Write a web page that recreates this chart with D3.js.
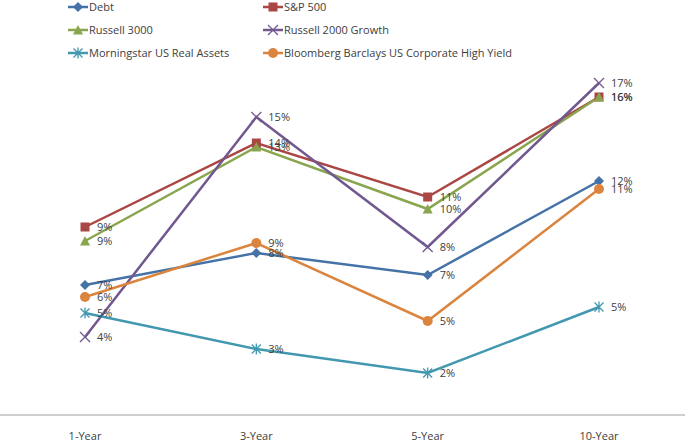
<!DOCTYPE html>
<html>
  <head>
  <title>Returns by period</title>
  </head>
  <body>
    <style>
      body, html { margin: 0; padding: 0; background: #fff; }
      text { font-family: "Open Sans", "Noto Sans", sans-serif; }
    </style>

  <svg id="svg" width="685" height="443"></svg>

  <script src="https://d3js.org/d3.v7.min.js"></script>
  <script>
    // categories and series values (percent)
    const periods = ['1-Year', '3-Year', '5-Year', '10-Year']
    const debt = [6.5, 8.1, 7.0, 11.7]
    const sp500 = [9.4, 13.6, 10.9, 15.9]
    const russell3000 = [8.7, 13.4, 10.3, 15.9]
    const russell2000g = [3.9, 14.9, 8.4, 16.6]
    const morningstar = [5.1, 3.3, 2.1, 5.4]
    const bloomberg = [5.9, 8.6, 4.7, 11.3]

    const series = [
      { name: 'Debt', values: debt, color: '#4572A7', marker: 'diamond' },
      { name: 'S&P 500', values: sp500, color: '#AA4643', marker: 'square' },
      { name: 'Russell 3000', values: russell3000, color: '#89A54E', marker: 'triangle' },
      { name: 'Russell 2000 Growth', values: russell2000g, color: '#71588F', marker: 'x' },
      { name: 'Morningstar US Real Assets', values: morningstar, color: '#4198AF', marker: 'star' },
      { name: 'Bloomberg Barclays US Corporate High Yield', values: bloomberg, color: '#DB843D', marker: 'circle' }
    ]

    const width = 685
    const height = 443

    const xscale = d3.scalePoint()
      .domain(periods)
      .range([85, 599])

    const yscale = d3.scaleLinear()
      .domain([0, 20])
      .range([415, 15])

    const svg = d3.select('#svg')

    // horizontal axis line
    svg.append('line')
      .attr('x1', 0).attr('x2', width)
      .attr('y1', yscale(0)).attr('y2', yscale(0))
      .attr('stroke', '#bfbfbf')
      .attr('stroke-width', 1.5)

    // category labels
    svg.append('g')
      .selectAll('text')
      .data(periods)
      .join('text')
      .attr('x', d => xscale(d))
      .attr('y', 440)
      .attr('text-anchor', 'middle')
      .attr('font-size', 11)
      .attr('fill', '#404040')
      .text(d => d)

    function drawMarker(g, type, color) {
      if (type === 'diamond') {
        g.append('path').attr('d', 'M0,-5L5,0L0,5L-5,0Z').attr('fill', color)
      } else if (type === 'square') {
        g.append('rect').attr('x', -4.5).attr('y', -4.5).attr('width', 9).attr('height', 9).attr('fill', color)
      } else if (type === 'triangle') {
        g.append('path').attr('d', 'M0,-5L5,4.5L-5,4.5Z').attr('fill', color)
      } else if (type === 'circle') {
        g.append('circle').attr('r', 5).attr('fill', color)
      } else if (type === 'x') {
        g.append('path').attr('d', 'M-5,-5L5,5M-5,5L5,-5')
          .attr('stroke', color).attr('stroke-width', 1.3).attr('fill', 'none')
      } else if (type === 'star') {
        g.append('path').attr('d', 'M-4.5,-4.5L4.5,4.5M-4.5,4.5L4.5,-4.5M0,-5.5L0,5.5')
          .attr('stroke', color).attr('stroke-width', 1.3).attr('fill', 'none')
      }
    }

    const linegen = d3.line()
      .x((d, i) => xscale(periods[i]))
      .y(d => yscale(d))

    const graph = svg.append('g')

    series.forEach(s => {
      graph.append('path')
        .attr('d', linegen(s.values))
        .attr('stroke', s.color)
        .attr('stroke-width', 2.5)
        .attr('fill', 'none')
    })

    series.forEach(s => {
      s.values.forEach((v, i) => {
        const g = graph.append('g')
          .attr('transform', `translate(${xscale(periods[i])}, ${yscale(v)})`)
        drawMarker(g, s.marker, s.color)
      })
    })

    // data labels
    series.forEach(s => {
      graph.append('g')
        .selectAll('text')
        .data(s.values)
        .join('text')
        .attr('x', (d, i) => xscale(periods[i]) + 12)
        .attr('y', d => yscale(d) + 4)
        .attr('font-size', 11)
        .attr('fill', '#404040')
        .text(d => Math.round(d) + '%')
    })

    // legend, two columns
    const legend = svg.append('g')
    series.forEach((s, i) => {
      const col = i % 2
      const row = Math.floor(i / 2)
      const lx = col === 0 ? 68 : 263
      const ly = 7 + row * 23
      const g = legend.append('g').attr('transform', `translate(${lx}, ${ly})`)
      g.append('line')
        .attr('x1', 0).attr('x2', 20)
        .attr('stroke', s.color).attr('stroke-width', 2.5)
      const m = g.append('g').attr('transform', 'translate(10, 0)')
      drawMarker(m, s.marker, s.color)
      g.append('text')
        .attr('x', 21)
        .attr('y', 4)
        .attr('font-size', 11)
        .attr('fill', '#404040')
        .text(s.name)
    })
  </script>
  </body>
</html>
